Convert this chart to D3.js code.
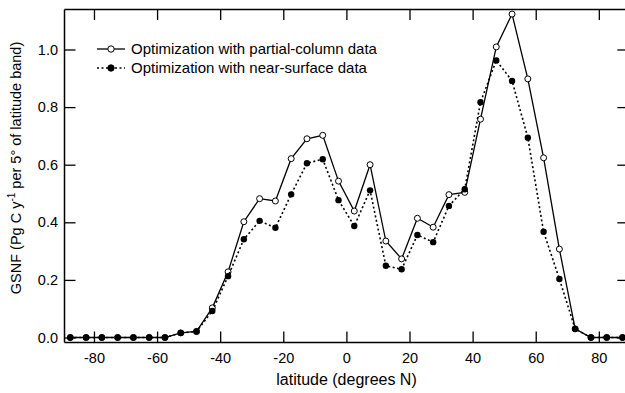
<!DOCTYPE html>
<html>
<head>
<meta charset="utf-8">
<script src="https://cdn.jsdelivr.net/npm/d3@7"></script>
<style>
html,body{margin:0;padding:0;background:#fff;}
svg{display:block;font-family:"Liberation Sans",Arial,sans-serif;}
</style>
</head>
<body>
<svg id="chart" width="625" height="393"></svg>
<script>
const latitudes = [-87.5,-82.5,-77.5,-72.5,-67.5,-62.5,-57.5,-52.5,-47.5,-42.5,-37.5,-32.5,-27.5,-22.5,-17.5,-12.5,-7.5,-2.5,2.5,7.5,12.5,17.5,22.5,27.5,32.5,37.5,42.5,47.5,52.5,57.5,62.5,67.5,72.5,77.5,82.5,87.5];
const partialColumn = [0,0,0,0,0,0,0,0.016,0.021,0.103,0.228,0.402,0.482,0.474,0.621,0.690,0.702,0.543,0.439,0.600,0.335,0.273,0.414,0.383,0.496,0.504,0.758,1.009,1.123,0.898,0.624,0.307,0.030,0,0,0];
const nearSurface = [0,0,0,0,0,0,0,0.016,0.021,0.092,0.213,0.341,0.405,0.381,0.497,0.605,0.619,0.477,0.387,0.511,0.249,0.237,0.356,0.331,0.457,0.515,0.817,0.962,0.891,0.694,0.367,0.203,0.030,0,0,0];
const xTicks = [-80,-60,-40,-20,0,20,40,60,80];
const xTickLabels = ["-80","-60","-40","-20","0","20","40","60","80"];
const yTicks = [0,0.2,0.4,0.6,0.8,1.0];
const yTickLabels = ["0.0","0.2","0.4","0.6","0.8","1.0"];
const seriesNames = ["Optimization with partial-column data","Optimization with near-surface data"];

const svg = d3.select("#chart");
const L = 64, T = 9, R = 628.8, B = 342;
const x = d3.scaleLinear().domain([-89.5, 89.5]).range([L, R]);
const y = d3.scaleLinear().domain([-0.0156, 1.1406]).range([B, T]);

const fs = 14.5;
// axes
const gB = svg.append("g").attr("transform",`translate(0,${B})`)
  .call(d3.axisBottom(x).tickValues(xTicks).tickSizeInner(-10.5).tickSizeOuter(0).tickPadding(10.5)
    .tickFormat((d,i)=>xTickLabels[i]));
const gT = svg.append("g").attr("transform",`translate(0,${T})`)
  .call(d3.axisTop(x).tickValues(xTicks).tickSizeInner(-11).tickSizeOuter(0).tickFormat(""));
const gL = svg.append("g").attr("transform",`translate(${L},0)`)
  .call(d3.axisLeft(y).tickValues(yTicks).tickSizeInner(-11.5).tickSizeOuter(0).tickPadding(6)
    .tickFormat((d,i)=>yTickLabels[i]));
const gR = svg.append("g").attr("transform",`translate(${R},0)`)
  .call(d3.axisRight(y).tickValues(yTicks).tickSizeInner(-11.5).tickSizeOuter(0).tickFormat(""));
[gB,gT,gL,gR].forEach(g=>{
  g.selectAll("path.domain").attr("stroke","#000").attr("stroke-width",1.5);
  g.selectAll(".tick line").attr("stroke","#000").attr("stroke-width",1.3);
  g.selectAll(".tick text").attr("fill","#000").style("font-size",fs+"px").style("font-family","'Liberation Sans',Arial,sans-serif");
});

// lines
const line = d3.line().x((d,i)=>x(latitudes[i])).y(d=>y(d));
svg.append("path").datum(partialColumn).attr("d",line)
  .attr("fill","none").attr("stroke","#000").attr("stroke-width",1.3);
svg.append("g").selectAll("circle").data(partialColumn).join("circle")
  .attr("cx",(d,i)=>x(latitudes[i])).attr("cy",d=>y(d)).attr("r",3)
  .attr("fill","#fff").attr("stroke","#000").attr("stroke-width",1);

svg.append("path").datum(nearSurface).attr("d",line)
  .attr("fill","none").attr("stroke","#000").attr("stroke-width",1.6).attr("stroke-dasharray","2,2.5");
svg.append("g").selectAll("circle").data(nearSurface).join("circle")
  .attr("cx",(d,i)=>x(latitudes[i])).attr("cy",d=>y(d)).attr("r",3.2)
  .attr("fill","#000");

// legend
const lg = svg.append("g");
const rows = [{y:49, dash:null, filled:false},{y:68, dash:"2,2.5", filled:true}];
rows.forEach((r,i)=>{
  lg.append("line").attr("x1",97).attr("x2",125).attr("y1",r.y).attr("y2",r.y)
    .attr("stroke","#000").attr("stroke-width",r.dash?1.6:1.3).attr("stroke-dasharray",r.dash);
  lg.append("circle").attr("cx",111).attr("cy",r.y).attr("r",3.2)
    .attr("fill",r.filled?"#000":"#fff").attr("stroke","#000").attr("stroke-width",1);
  lg.append("text").attr("x",131).attr("y",r.y+5.3).style("font-size","15px").text(seriesNames[i]);
});

// axis titles
svg.append("text").attr("x",346.5).attr("y",385).attr("text-anchor","middle")
  .style("font-size","16px").text("latitude (degrees N)");

const yt = svg.append("text").attr("transform","translate(21,168) rotate(-90)")
  .attr("text-anchor","middle").style("font-size","14.5px");
yt.append("tspan").text("GSNF (Pg C y");
yt.append("tspan").attr("dy",-6).style("font-size","10px").text("-1");
yt.append("tspan").attr("dy",6).text(" per 5° of latitude band)");
</script>
</body>
</html>
